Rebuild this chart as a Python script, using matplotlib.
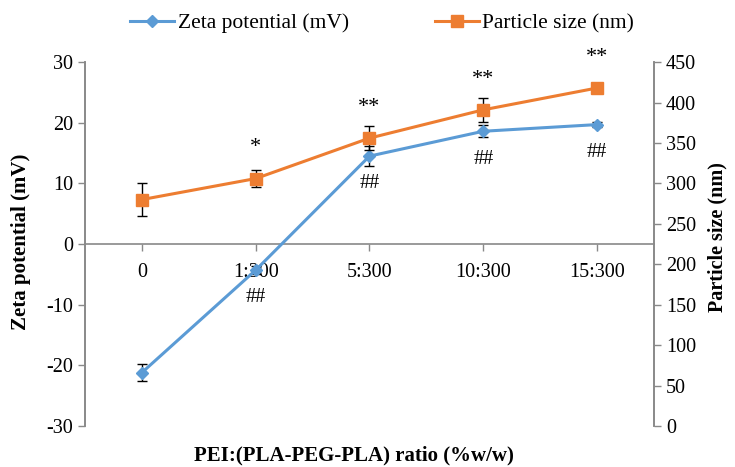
import matplotlib
matplotlib.use('Agg')
import matplotlib.pyplot as plt

ratios = ["0", "1:300", "5:300", "10:300", "15:300"]
zeta = [-21.2, -4.3, 14.5, 18.6, 19.7]
zeta_err = [1.4, 0.6, 1.6, 1.0, 0.4]
size = [280, 306, 356, 391, 418]
size_err = [20, 10, 15, 15, 0]
size_marks = ["", "*", "**", "**", "**"]
zeta_marks = ["", "##", "##", "##", "##"]

BLUE = "#5B9BD5"
ORANGE = "#ED7D31"
GRAY = "#898989"

plt.rcParams['font.family'] = ['Liberation Serif', 'DejaVu Serif']
plt.rcParams['axes.unicode_minus'] = False

fig = plt.figure(figsize=(7.35, 4.67), dpi=100)
ax = fig.add_axes([0.1156, 0.0878, 0.7742, 0.7792])
ax2 = ax.twinx()

x = list(range(len(ratios)))

# zeta potential (left axis)
ax.errorbar(x, zeta, yerr=zeta_err, fmt="none", ecolor="black",
            elinewidth=1, capsize=3.5, capthick=1, zorder=2)
ax.plot(x, zeta, color=BLUE, lw=2.2, marker="D", ms=6.5, zorder=3,
        label="Zeta potential (mV)")
# particle size (right axis)
ax2.errorbar(x, size, yerr=size_err, fmt="none", ecolor="black",
             elinewidth=1, capsize=3.5, capthick=1, zorder=2)
ax2.plot(x, size, color=ORANGE, lw=2.2, marker="s", ms=8.5, zorder=3,
         label="Particle size (nm)")

ax.set_xlim(-0.5, len(ratios) - 0.5)
ax.set_ylim(-30, 30)
ax.set_yticks(range(-30, 31, 10))
ax2.set_ylim(0, 450)
ax2.set_yticks(range(0, 451, 50))

ax.set_xticks(x)
ax.set_xticklabels(ratios)

for a in (ax, ax2):
    a.spines['top'].set_visible(False)
    a.tick_params(labelsize=14.5, labelcolor="black", color=GRAY, length=5, width=1)
    for s in a.spines.values():
        s.set_color(GRAY)
        s.set_linewidth(1.2)

ax.spines['bottom'].set_position(('data', 0))
ax2.spines['bottom'].set_visible(False)
ax.tick_params(axis='x', pad=9)

# significance marks
for i in x:
    if size_marks[i]:
        ax2.annotate(size_marks[i], (i, size[i]), xytext=(0, 22),
                     textcoords="offset points", ha="center", va="center", fontsize=16)
    if zeta_marks[i]:
        ax.annotate(zeta_marks[i], (i, zeta[i]), xytext=(0, -20),
                    textcoords="offset points", ha="center", va="center", fontsize=14.5)

fig.text(0.0286, 0.482, "Zeta potential (mV)", rotation=90, ha="center", va="center",
         fontsize=15, fontweight="bold")
fig.text(0.9755, 0.492, "Particle size (nm)", rotation=90, ha="center", va="center",
         fontsize=14.5, fontweight="bold")
fig.text(0.4816, 0.0236, "PEI:(PLA-PEG-PLA) ratio (%w/w)", ha="center", va="center",
         fontsize=15, fontweight="bold")

h1, l1 = ax.get_legend_handles_labels()
h2, l2 = ax2.get_legend_handles_labels()
fig.legend(h1 + h2, l1 + l2, loc="center", bbox_to_anchor=(0.52, 0.95), ncol=2,
           frameon=False, fontsize=15.5, columnspacing=4.0, handlelength=2.05,
           handletextpad=0.15, borderaxespad=0)

fig.savefig("out.png", dpi=100)
